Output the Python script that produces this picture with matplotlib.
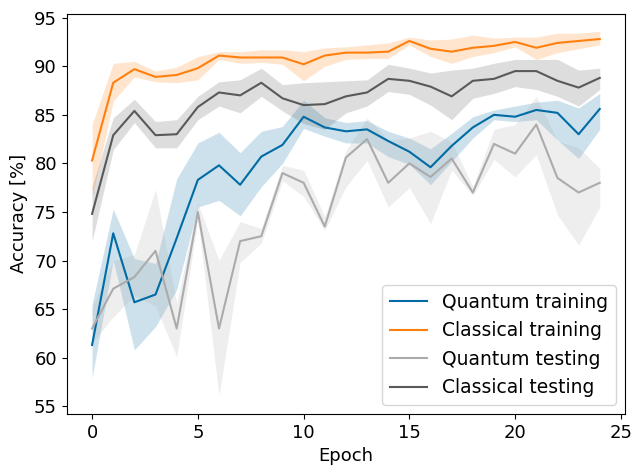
import matplotlib
matplotlib.use("Agg")
import matplotlib.pyplot as plt
import numpy as np

epochs = np.arange(25)

q_train = [61.3, 72.8, 65.7, 66.5, 72.3, 78.3, 79.8, 77.8, 80.7, 81.9, 84.8, 83.7, 83.3,
           83.5, 82.3, 81.2, 79.6, 81.8, 83.7, 85.0, 84.8, 85.5, 85.2, 83.0, 85.6]
q_train_lo = [57.9, 70.0, 60.8, 63.2, 67.0, 75.5, 76.2, 74.6, 77.6, 80.0, 83.6, 82.8, 82.1,
              82.1, 80.7, 79.9, 77.8, 80.2, 82.6, 84.5, 84.3, 84.5, 82.4, 80.5, 83.5]
q_train_hi = [65.5, 75.3, 70.2, 69.7, 78.4, 82.1, 83.2, 81.1, 83.3, 83.8, 86.5, 84.7, 84.2,
              84.4, 83.3, 82.6, 81.5, 83.1, 84.8, 85.5, 85.9, 86.3, 86.5, 85.7, 87.2]

c_train = [80.3, 88.3, 89.7, 88.9, 89.1, 89.8, 91.1, 90.9, 90.9, 90.9, 90.2, 91.1, 91.4,
           91.4, 91.5, 92.6, 91.8, 91.5, 91.9, 92.1, 92.5, 91.9, 92.4, 92.6, 92.8]
c_train_lo = [76.5, 86.4, 88.9, 88.4, 88.3, 88.6, 90.7, 90.3, 90.4, 90.2, 88.5, 90.0, 90.7,
              90.8, 90.8, 92.2, 91.0, 90.3, 91.0, 91.4, 92.0, 90.7, 91.4, 91.8, 92.2]
c_train_hi = [84.0, 90.3, 90.5, 89.5, 89.9, 91.0, 91.5, 91.5, 91.7, 91.7, 91.5, 91.9, 92.0,
              92.2, 92.4, 93.0, 92.7, 92.8, 93.2, 92.9, 93.0, 93.0, 93.4, 93.4, 93.6]

q_test = [63.0, 67.1, 68.3, 71.0, 63.0, 75.0, 63.0, 72.0, 72.5, 79.0, 78.0, 73.5, 80.6,
          82.5, 78.0, 80.0, 78.6, 80.5, 77.0, 82.0, 81.0, 84.0, 78.5, 77.0, 78.0]
q_test_lo = [61.5, 64.2, 66.4, 65.3, 60.1, 74.2, 56.1, 69.8, 71.8, 78.2, 76.6, 73.1, 77.6,
             80.3, 75.5, 77.5, 73.8, 79.3, 76.7, 80.4, 78.6, 80.9, 74.7, 71.6, 75.5]
q_test_hi = [65.2, 70.0, 70.6, 77.3, 65.6, 75.9, 70.0, 74.0, 73.3, 79.8, 79.3, 74.5, 81.3,
             84.7, 82.4, 82.6, 83.3, 82.2, 77.6, 83.5, 84.0, 86.9, 82.3, 81.6, 79.5]

c_test = [74.8, 82.9, 85.4, 82.9, 83.0, 85.8, 87.3, 87.0, 88.3, 86.7, 86.0, 86.1, 86.9,
          87.3, 88.7, 88.5, 87.9, 86.9, 88.5, 88.7, 89.5, 89.5, 88.5, 87.8, 88.8]
c_test_lo = [72.0, 81.4, 84.2, 81.6, 81.6, 84.5, 85.9, 85.2, 86.9, 85.4, 84.1, 83.5, 85.2,
             85.9, 87.4, 87.1, 86.0, 84.5, 86.7, 87.2, 87.9, 87.6, 86.9, 85.9, 87.6]
c_test_hi = [77.6, 84.7, 86.6, 84.3, 84.5, 86.9, 88.4, 88.6, 89.8, 88.1, 88.3, 88.4, 88.5,
             88.6, 90.2, 89.8, 89.3, 89.6, 89.8, 90.3, 90.7, 90.7, 90.7, 89.6, 89.8]

series = [
    ("Quantum training", q_train, q_train_lo, q_train_hi, "#006BA4"),
    ("Classical training", c_train, c_train_lo, c_train_hi, "#FF800E"),
    ("Quantum testing", q_test, q_test_lo, q_test_hi, "#ABABAB"),
    ("Classical testing", c_test, c_test_lo, c_test_hi, "#595959"),
]

plt.rcParams["font.size"] = 13

fig = plt.figure(figsize=(6.31, 4.67), dpi=100)
ax = fig.add_axes([0.1057, 0.1135, 0.885, 0.857])

for label, mid, lo, hi, color in series:
    ax.plot(epochs, mid, color=color, linewidth=1.5, label=label)
    ax.fill_between(epochs, lo, hi, color=color, alpha=0.2, linewidth=0)

ax.set_xlim(-1.2, 25.2)
ax.set_ylim(54.2, 95.4)
ax.set_xticks([0, 5, 10, 15, 20, 25])
ax.set_yticks([55, 60, 65, 70, 75, 80, 85, 90, 95])
ax.set_xlabel("Epoch")
ax.set_ylabel("Accuracy [%]")
ax.legend(loc="lower right", fontsize=13.5)

fig.savefig("out.png", dpi=100)
